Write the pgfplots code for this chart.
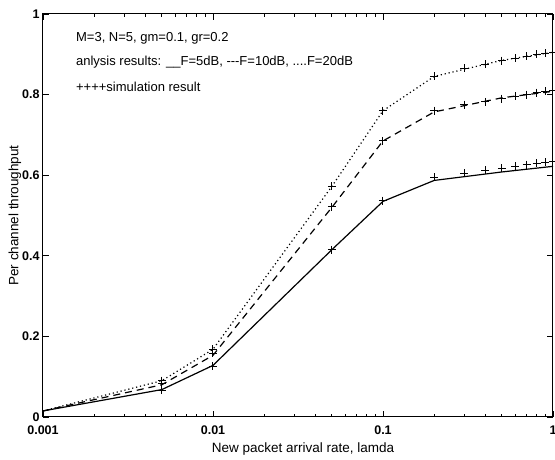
\documentclass[border=0pt]{standalone}
\usepackage{fontspec}
\setmainfont{Liberation Sans}
\usepackage{pgfplots}
\pgfplotsset{compat=1.18}
\begin{document}
\begin{tikzpicture}
\begin{axis}[
  scale only axis, width=510pt, height=403pt,
  xmode=log, xmin=0.001, xmax=1, ymin=0, ymax=1,
  xtick={0.001,0.01,0.1,1}, xticklabels={0.001,0.01,0.1,1},
  ytick={0,0.2,0.4,0.6,0.8,1}, yticklabels={0,0.2,0.4,0.6,0.8,1},
  tick align=inside, major tick length=6pt, minor tick length=3pt,
  tick label style={font=\fontsize{12.5}{14}\selectfont\bfseries},
  xticklabel style={yshift=-5pt},
  label style={font=\fontsize{13.5}{15}\selectfont},
  xlabel={New packet arrival rate, lamda},
  ylabel={Per channel throughput},
  axis line style={line width=1pt},
  every tick/.style={black, line width=0.8pt},
  xlabel style={at={(rel axis cs:0.51,0)}, anchor=north, yshift=-22pt},
  ylabel style={yshift=-6pt},
  clip=false,
]
% analysis F=5dB
\addplot[black, line width=1.2pt] coordinates {
  (0.001,0.015) (0.005,0.068) (0.01,0.128) (0.05,0.415) (0.1,0.535) (0.2,0.587) (0.5,0.608) (1,0.622)};
% analysis F=10dB
\addplot[black, line width=1.2pt, dash pattern=on 7pt off 5pt] coordinates {
  (0.001,0.015) (0.005,0.08) (0.01,0.153) (0.05,0.52) (0.1,0.685) (0.2,0.757) (0.5,0.792) (1,0.808)};
% analysis F=20dB
\addplot[black, line width=1.2pt, dash pattern=on 1.2pt off 2.8pt] coordinates {
  (0.001,0.015) (0.005,0.09) (0.01,0.168) (0.05,0.572) (0.1,0.76) (0.2,0.845) (0.5,0.885) (1,0.905)};
% simulation
\addplot[only marks, black, mark=+, mark size=4pt, line width=1pt] coordinates {
  (0.005,0.066) (0.01,0.126) (0.05,0.415) (0.1,0.537) (0.2,0.595) (0.3,0.605) (0.4,0.612) (0.5,0.617) (0.6,0.622) (0.7,0.626) (0.8,0.63) (0.9,0.632) (1,0.635)};
\addplot[only marks, black, mark=+, mark size=4pt, line width=1pt] coordinates {
  (0.005,0.082) (0.01,0.158) (0.05,0.522) (0.1,0.685) (0.2,0.76) (0.3,0.775) (0.4,0.782) (0.5,0.79) (0.6,0.796) (0.7,0.8) (0.8,0.805) (0.9,0.808) (1,0.81)};
\addplot[only marks, black, mark=+, mark size=4pt, line width=1pt] coordinates {
  (0.005,0.09) (0.01,0.168) (0.05,0.572) (0.1,0.76) (0.2,0.845) (0.3,0.865) (0.4,0.875) (0.5,0.884) (0.6,0.89) (0.7,0.895) (0.8,0.9) (0.9,0.902) (1,0.905)};
\node[anchor=west, font=\fontsize{13}{15}\selectfont] at (rel axis cs:0.058,0.94) {M=3, N=5, gm=0.1, gr=0.2};
\node[anchor=west, font=\fontsize{13}{15}\selectfont] at (rel axis cs:0.058,0.88) {anlysis results: \_\_F=5dB, -{}-{}-F=10dB, ....F=20dB};
\node[anchor=west, font=\fontsize{13}{15}\selectfont] at (rel axis cs:0.058,0.82) {++++simulation result};
\coordinate (o) at (rel axis cs:0,0);
\end{axis}
\pgfresetboundingbox
\path (o) ++(-43pt,-43pt) rectangle ++(555pt,460pt);
\end{tikzpicture}
\end{document}
